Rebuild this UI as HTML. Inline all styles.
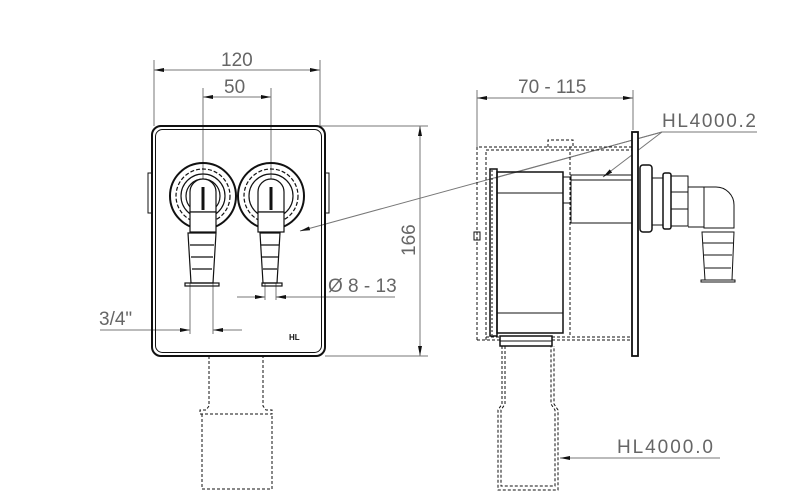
<!DOCTYPE html>
<html><head><meta charset="utf-8"><style>
html,body{margin:0;padding:0;background:#fff;width:800px;height:503px;overflow:hidden}
text{font-family:"Liberation Sans",sans-serif;fill:#666}
</style></head><body>
<svg width="800" height="503" viewBox="0 0 800 503" xmlns="http://www.w3.org/2000/svg">
<defs>
<marker id="a" viewBox="0 0 10 4" refX="10" refY="2" markerWidth="10" markerHeight="4" orient="auto-start-reverse" markerUnits="userSpaceOnUse"><path d="M0,0L10,2L0,4z" fill="#111"/></marker>
</defs>
<g stroke="#777" stroke-width="1" fill="none">
<line x1="154" y1="60" x2="154" y2="126"/><line x1="320" y1="60" x2="320" y2="126"/>
<line x1="154" y1="70" x2="320" y2="70" marker-start="url(#a)" marker-end="url(#a)"/>
<line x1="203" y1="88" x2="203" y2="196"/><line x1="271" y1="88" x2="271" y2="196"/>
<line x1="203" y1="97" x2="271" y2="97" marker-start="url(#a)" marker-end="url(#a)"/>
<line x1="320" y1="126" x2="428" y2="126"/><line x1="325" y1="356" x2="428" y2="356"/>
<line x1="420" y1="126" x2="420" y2="356" marker-start="url(#a)" marker-end="url(#a)"/>
<line x1="190" y1="283" x2="190" y2="334"/><line x1="213" y1="283" x2="213" y2="334"/>
<line x1="100" y1="330" x2="190" y2="330" marker-end="url(#a)"/>
<line x1="242" y1="330" x2="213" y2="330" marker-end="url(#a)"/>
<line x1="265" y1="283" x2="265" y2="300"/><line x1="276" y1="283" x2="276" y2="300"/>
<line x1="237" y1="297" x2="265" y2="297" marker-end="url(#a)"/>
<line x1="395" y1="297" x2="276" y2="297" marker-end="url(#a)"/>
<line x1="477" y1="90" x2="477" y2="150"/><line x1="633" y1="90" x2="633" y2="130"/>
<line x1="477" y1="98" x2="633" y2="98" marker-start="url(#a)" marker-end="url(#a)"/>
<line x1="662" y1="132" x2="757" y2="132"/>
<line x1="662" y1="132" x2="300" y2="231" marker-end="url(#a)"/>
<line x1="662" y1="132" x2="495" y2="178"/>
<line x1="662" y1="132" x2="603" y2="177" marker-end="url(#a)"/>
<line x1="720" y1="458" x2="560" y2="458" marker-end="url(#a)"/>
</g>
<g stroke="#111" fill="none">
<rect x="152" y="126" width="173" height="230" rx="9" stroke-width="2"/>
<rect x="155.5" y="129.5" width="166" height="223" rx="7" stroke-width="1"/>
<path d="M152 173h-4v40h4M325 173h4v40h-4" stroke-width="1"/>
<g stroke-width="1.2">
<circle cx="203" cy="196" r="33" stroke-width="2"/><circle cx="203" cy="196" r="27" stroke-dasharray="4 2"/><circle cx="203" cy="196" r="22"/><circle cx="203" cy="196" r="17"/>
<circle cx="271" cy="196" r="33" stroke-width="2"/><circle cx="271" cy="196" r="27" stroke-dasharray="4 2"/><circle cx="271" cy="196" r="22"/>
<path d="M190 212v-20a13 13 0 0 1 26 0v20z" fill="#fff"/><path d="M258 212v-20a13 13 0 0 1 26 0v20z" fill="#fff"/>
<line x1="203" y1="187" x2="203" y2="210" stroke-width="3"/><line x1="271" y1="187" x2="271" y2="210" stroke-width="3"/>
<rect x="190" y="212" width="26" height="20" fill="#fff"/><rect x="258" y="212" width="26" height="20" fill="#fff"/>
<path d="M188 233h28l-3 50h-22z"/><path d="M190 245h24M191 257h22M192 269h20"/>
<path d="M260 233h20l-3 50h-14z"/><path d="M261 245h18M262 257h16M263 269h14"/>
<rect x="185" y="283" width="34" height="3"/><rect x="262" y="283" width="20" height="3"/>
</g>
<g stroke-dasharray="3 2" stroke-width="1">
<path d="M209 356v50l-3 4h-6v4h72v-4h-6l-3-4v-50"/>
<path d="M202 414v75h70v-75"/>
<path d="M477 340v-193h160M486 340v-190h148M548 147v-7h25v7M570 147v190"/>
<path d="M477 340h23M486 337h14M552 340h80M552 337h80"/>
<path d="M502 346v58l-4 6v80h60v-80l-4-6v-58M505 346v58l-4 6v76h54v-76l-4-6v-58"/>
</g>
<rect x="632" y="132" width="6" height="224" fill="#fff" stroke-width="1.8"/>
<rect x="497" y="172" width="66" height="161" stroke-width="1.5"/>
<line x1="497" y1="193" x2="563" y2="193"/><line x1="497" y1="313" x2="563" y2="313"/>
<rect x="490" y="169" width="7" height="167" stroke-width="1.5"/>
<path d="M492 170v165" stroke-dasharray="2 2"/>
<rect x="563" y="177" width="8" height="26"/>
<rect x="571" y="175" width="61" height="48"/><line x1="571" y1="180" x2="632" y2="180"/>
<rect x="640" y="165" width="12" height="67" rx="3" stroke-width="1.5"/>
<line x1="652" y1="178" x2="663" y2="178"/><line x1="652" y1="225" x2="663" y2="225"/>
<rect x="663" y="173" width="8" height="56" rx="2" stroke-width="1.5"/>
<rect x="671" y="176" width="17" height="50"/><path d="M671 192h17M671 209h17"/>
<path d="M688 187h16v40h-16"/>
<path d="M704 187h12a18 18 0 0 1 18 18v23h-30z"/>
<path d="M702 232h32l-2 48h-27z"/><path d="M703 243h30M704 255h28M705 268h26"/>
<rect x="701" y="280" width="34" height="2"/>
<rect x="500" y="336" width="52" height="10" stroke-width="1.5"/><line x1="500" y1="341" x2="552" y2="341"/>
<rect x="474" y="232" width="6" height="8"/>
</g>
<g font-size="19">
<text x="221" y="66">120</text>
<text x="224" y="93">50</text>
<text x="518" y="93">70 - 115</text>
<text x="662" y="127" textLength="94">HL4000.2</text>
<text x="617" y="453" textLength="96">HL4000.0</text>
<text x="328" y="292">Ø 8 - 13</text>
<text x="99" y="325">3/4"</text>
<text transform="translate(415 256) rotate(-90)">166</text>
</g>
<text x="289" y="340" font-size="8" font-weight="bold" style="fill:#111">HL</text>
</svg>
</body></html>
